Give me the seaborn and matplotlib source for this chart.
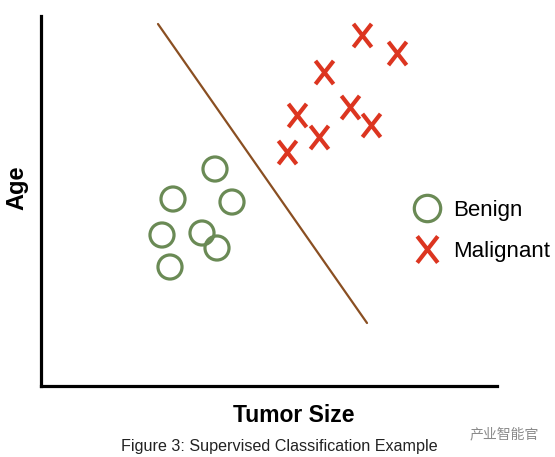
import matplotlib
matplotlib.use("Agg")
import matplotlib.pyplot as plt
from matplotlib.path import Path
from matplotlib.markers import MarkerStyle
from matplotlib.lines import Line2D
import seaborn as sns
import pandas as pd

# ---- data (arbitrary units) ----
benign_size = [174, 132, 191, 121, 161, 176, 129]
benign_age = [217, 187, 184, 151, 153, 138, 119]
malignant_size = [321, 356, 283, 309, 256, 330, 278, 246]
malignant_age = [351, 333, 314, 279, 271, 261, 249, 234]
boundary_size = [117, 326]
boundary_age = [362, 63]
class_labels = ["Benign", "Malignant"]

GREEN = "#6A8A55"
RED = "#DC3520"
BROWN = "#8A4F22"

sns.set_style("white")
plt.rcParams["font.family"] = ["Liberation Sans", "Noto Sans CJK SC", "DejaVu Sans"]
plt.rcParams["text.color"] = "black"

fig = plt.figure(figsize=(5.55, 4.57), dpi=100)
ax = fig.add_axes([41 / 555, 71 / 457, 456 / 555, 370 / 457])

xmark = MarkerStyle(Path([(-0.39, -0.5), (0.39, 0.5), (-0.39, 0.5), (0.39, -0.5)],
                         [Path.MOVETO, Path.LINETO, Path.MOVETO, Path.LINETO]))

benign = pd.DataFrame({"size": benign_size, "age": benign_age})
malignant = pd.DataFrame({"size": malignant_size, "age": malignant_age})
boundary = pd.DataFrame({"size": boundary_size, "age": boundary_age})

sns.lineplot(data=boundary, x="size", y="age", sort=False, estimator=None,
             color=BROWN, linewidth=1.6, ax=ax)
sns.scatterplot(data=benign, x="size", y="age", marker="o", s=300,
                color=GREEN, facecolors="none", edgecolor=GREEN, linewidth=2.3, ax=ax)
sns.scatterplot(data=malignant, x="size", y="age", marker=xmark, s=280,
                color=RED, edgecolor=RED, linewidth=3.0, ax=ax)

ax.set_xlim(0, 456)
ax.set_ylim(0, 370)
ax.set_xticks([])
ax.set_yticks([])
ax.set_xlabel("")
ax.set_ylabel("")
for side in ["top", "right"]:
    ax.spines[side].set_visible(False)
for side in ["left", "bottom"]:
    ax.spines[side].set_color("black")
    ax.spines[side].set_linewidth(2.3)

handles = [
    Line2D([], [], ls="", marker="o", mfc="none", mec=GREEN, ms=19, mew=2.3),
    Line2D([], [], ls="", marker=xmark, color=RED, mec=RED, ms=19, mew=3.0),
]
leg = ax.legend(handles, class_labels, frameon=False, loc="upper left",
                bbox_to_anchor=(0.818, 0.504), borderpad=0, borderaxespad=0,
                handlelength=1.2, handletextpad=0.55, labelspacing=0.9,
                prop={"size": 16})
for t in leg.get_texts():
    t.set_color("black")

fig.text(17 / 555, 1 - 188 / 457, "Age", rotation=90, ha="center", va="center",
         fontsize=17, fontweight="bold", color="black")
fig.text(294 / 555, 1 - 416 / 457, "Tumor Size", ha="center", va="center",
         fontsize=16.5, fontweight="bold", color="black")
fig.text(279 / 555, 1 - 447 / 457, "Figure 3: Supervised Classification Example",
         ha="center", va="center", fontsize=11.6, color="#222222")
fig.text(470 / 555, 1 - 434 / 457, "产业智能官", ha="left", va="center",
         fontsize=10, color="#8a8a8a", family=["Noto Sans CJK SC", "DejaVu Sans"])

fig.savefig("out.png", dpi=100)
